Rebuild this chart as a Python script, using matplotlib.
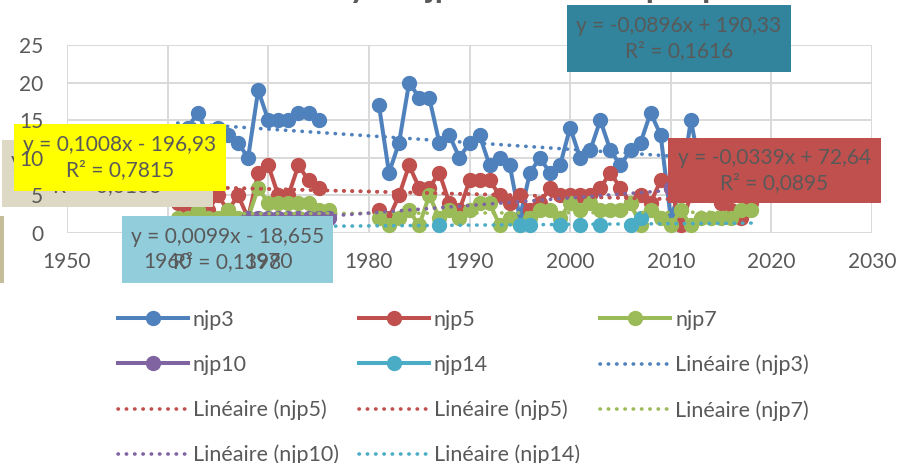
import numpy as np
import matplotlib
matplotlib.use("Agg")
import matplotlib.pyplot as plt
from matplotlib.patches import Rectangle

plt.rcParams['font.family'] = ['Lato', 'DejaVu Sans']

# années 1961-2018 (pas de données 1977-1980)
years = list(range(1961, 2019))
N = None

njp3 = [12, 14, 16, 13, 14, 13, 12, 10, 19, 15, 15, 15, 16, 16, 15, N,
        N, N, N, N,
        17, 8, 12, 20, 18, 18, 12, 13, 10, 12,
        13, 9, 10, 9, 2, 8, 10, 8, 9, 14,
        10, 11, 15, 11, 9, 11, 12, 16, 13, 2,
        6, 15, 8, 6, 7, 5, 6, 5]
njp5 = [4, 3, 4, 3, 5, 3, 5, 2, 8, 9, 5, 5, 9, 7, 6, N,
        N, N, N, N,
        3, 2, 5, 9, 6, 6, 8, 4, 3, 7,
        7, 7, 5, 4, 5, 3, 4, 6, 5, 5,
        5, 5, 6, 8, 6, 4, 5, 4, 7, 6,
        1, 5, 6, 5, 4, 3, 2, 4]
njp7 = [2, 2, 3, 2, 2, 3, 2, 2, 6, 4, 4, 4, 4, 4, 3, 3,
        N, N, N, N,
        2, 1, 2, 3, 1, 5, 2, 3, 2, 3,
        4, 4, 1, 2, 1, 2, 3, 3, 2, 4,
        3, 4, 3, 3, 3, 4, 1, 3, 2, 1,
        3, 1, 2, 2, 2, 2, 3, 3]
njp10 = [1, 1, 0, 1, 1, 1, 1, 2, 2, 2, 2, 2, 2, 2, 2, 2,
         N, N, N, N,
         N, N, N, N, N, N, N, N, N, N,
         N, N, N, N, N, N, N, N, N, N,
         N, N, N, N, N, N, N, N, N, 6,
         7, 6, 8, 7, 6, 7, 8, 7]
njp14 = [N, N, N, N, N, N, N, N, N, N, N, N, N, N, N, N,
         N, N, N, N,
         N, N, N, N, N, N, 1, N, N, N,
         N, N, N, N, 1, 1, N, N, 1, N,
         1, N, 1, N, N, 1, 2, N, N, N,
         N, N, N, N, N, N, N, N]

series_names = ['njp3', 'njp5', 'njp7', 'njp10', 'njp14']
series_values = [njp3, njp5, njp7, njp10, njp14]
series_colors = ['#4F81BD', '#C0504D', '#9BBB59', '#8064A2', '#4BACC6']

# courbes de tendance (étiquettes du graphique)
trend_series = ['njp3', 'njp5', 'njp5', 'njp7', 'njp10', 'njp14']
trend_slope = [-0.0896, -0.0339, -0.0339, 0.0042, 0.1008, 0.0099]
trend_icept = [190.33, 72.64, 72.64, -5.6992, -196.93, -18.655]

grey = '#595959'

fig = plt.figure(figsize=(9, 4.63), dpi=100)
ax = fig.add_axes([67 / 900, 1 - 233 / 463, 805 / 900, 188 / 463])
ax.set_xlim(1950, 2030)
ax.set_ylim(0, 25)
ax.set_xticks(range(1950, 2031, 10))
ax.set_yticks(range(0, 26, 5))
for v in ax.get_xticks():
    ax.axvline(v, color='#D9D9D9', lw=1.4, zorder=0.5)
for v in ax.get_yticks():
    ax.axhline(v, color='#D9D9D9', lw=1.4, zorder=0.5)
for s in ax.spines.values():
    s.set_visible(False)
ax.tick_params(length=0, labelsize=15, colors=grey)
ax.tick_params(axis='x', pad=14)
ax.tick_params(axis='y', pad=17)
ax.xaxis.set_zorder(40)
ax.yaxis.set_zorder(40)

x = np.array(years)
handles = {}
for name, vals, c in zip(series_names, series_values, series_colors):
    y = np.array([np.nan if v is None else v for v in vals], float)
    h, = ax.plot(x, y, color=c, lw=2.9, marker='o', ms=10, zorder=2,
                 solid_joinstyle='round', label=name)
    handles[name] = h

col = dict(zip(series_names, series_colors))
xt = np.array([years[0], years[-1]])
trend_handles = []
for name, a, b in zip(trend_series, trend_slope, trend_icept):
    h, = ax.plot(xt, a * xt + b, color=col[name], lw=2.6, ls=(0, (0.1, 2.2)),
                 dash_capstyle='round', zorder=3, label='Linéaire (%s)' % name)
    trend_handles.append(h)

# titre (presque entièrement hors cadre)
ax.text(282 / 900, 1 + 2 / 463, 'Analyse njp et tendance par période',
        transform=fig.transFigure, fontsize=24, fontweight='bold', color=grey,
        ha='left', va='baseline', zorder=4, clip_on=False)

# étiquettes des courbes de tendance (empilées dans l'ordre)
boxes = [
    ((567, 5, 791, 72), '#31849B', 'y = -0,0896x + 190,33\nR² = 0,1616'),
    ((-220, 216, 4, 283), '#C4BD97', ''),
    ((2, 140, 213, 207), '#DDD9C4', 'y = 0,0042x - 5,6992\nR² = 0,0106'),
    ((14, 124, 226, 191), '#FFFF00', 'y = 0,1008x - 196,93\nR² = 0,7815'),
    ((122, 216, 333, 283), '#92CDDC', 'y = 0,0099x - 18,655\nR² = 0,1398'),
    ((668, 138, 881, 203), '#C0504D', 'y = -0,0339x + 72,64\nR² = 0,0895'),
]
for i, ((x0, y0, x1, y1), color, txt) in enumerate(boxes):
    z = 5 + 2 * i
    ax.add_patch(Rectangle((x0 / 900, 1 - y1 / 463), (x1 - x0) / 900, (y1 - y0) / 463,
                           transform=fig.transFigure, facecolor=color, edgecolor='none',
                           zorder=z, clip_on=False))
    if txt:
        ax.text((x0 + x1) / 2 / 900, 1 - (y0 + y1) / 2 / 463, txt, transform=fig.transFigure,
                ha='center', va='center', fontsize=15, color=grey, linespacing=1.35,
                zorder=z + 1, clip_on=False)

# légende (ordre par lignes comme Excel)
entries = [handles[n] for n in series_names] + trend_handles
ncol = 3
cols = [entries[i::ncol] for i in range(ncol)]
ordered = [h for c in cols for h in c]
fig.legend(ordered, [h.get_label() for h in ordered], ncol=3, loc='upper left',
           bbox_to_anchor=(118 / 900, 1 - 310 / 463), frameon=False, fontsize=15.5,
           labelcolor=grey, numpoints=1, handlelength=3.25, handletextpad=0.22,
           labelspacing=1.15, columnspacing=0.95, borderpad=0, borderaxespad=0)

fig.savefig('out.png', dpi=100)
